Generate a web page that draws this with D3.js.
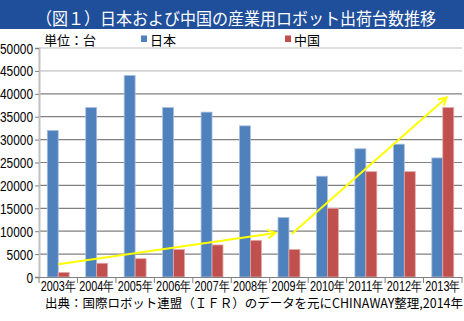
<!DOCTYPE html>
<html><head><meta charset="utf-8">
<script src="https://cdn.jsdelivr.net/npm/d3@7"></script>
<style>
html,body{margin:0;padding:0;background:#fff;}
svg{display:block;}
.j{font-family:"Noto Sans CJK JP","Noto Sans",sans-serif;}
</style></head><body>
<svg id="c" width="464" height="321"></svg>
<script>
const titleText = "（図１）日本および中国の産業用ロボット出荷台数推移";
const unitText = "単位：台";
const sourceText = "出典：国際ロボット連盟（ＩＦＲ）のデータを元にCHINAWAY整理,2014年";
const years = ["2003年","2004年","2005年","2006年","2007年","2008年","2009年","2010年","2011年","2012年","2013年"];
const seriesNames = ["日本","中国"];
const japan = [32000,37000,44000,37000,36000,33000,13000,22000,28000,29000,26000];
const china = [1000,3000,4000,6000,7000,8000,6000,15000,23000,23000,37000];
const yTicks = [0,5000,10000,15000,20000,25000,30000,35000,40000,45000,50000];
const colors = ["#4F81BD","#C0504D"];
// annotation arrows: [band position (category index units), value]
const arrows = [
  [[0.5,2800],[6.15,9600]],
  [[6.57,9400],[10.6,39200]]
];

const svg = d3.select("#c");
const W = 464, H = 321;
const L = 39, R = 462, T = 48, B = 277;
const numFont = "'Liberation Sans','DejaVu Sans',sans-serif";

// title bar
svg.append("rect").attr("x",0).attr("y",0).attr("width",W).attr("height",29).attr("fill","#1F4E9B");
svg.append("text").attr("class","j").attr("x",236).attr("y",25)
  .attr("text-anchor","middle").attr("fill","#fff").attr("font-size",17)
  .attr("textLength",400).attr("lengthAdjust","spacingAndGlyphs").text(titleText);

const x = d3.scaleBand().domain(years).range([L,R]).paddingInner(0).paddingOuter(0);
const xs = d3.scaleBand().domain(seriesNames).range([x.bandwidth()*0.215, x.bandwidth()*0.785]);
const y = d3.scaleLinear().domain([0,50000]).range([B,T]);
const xc = v => L + v * x.bandwidth();

// gridlines
svg.append("g").selectAll("line").data(yTicks.filter(d=>d>0)).join("line")
  .attr("x1",L).attr("x2",R).attr("y1",d=>y(d)).attr("y2",d=>y(d))
  .attr("stroke",d=>d>=45000?"#c0c0c0":"#808080").attr("stroke-width",1.2);

// y axis
const ya = svg.append("g").attr("transform",`translate(${L},0)`)
  .call(d3.axisLeft(y).tickValues(yTicks).tickSize(4).tickPadding(2).tickFormat(d3.format("d")));
ya.select(".domain").attr("stroke","#c0c0c0").attr("stroke-width",2);
ya.selectAll(".tick line").attr("stroke","#808080");
ya.selectAll("text").attr("font-size",14).attr("fill","#000").attr("font-family",numFont)
  .attr("dy","0.36em")
  .each(function(d){ const s=String(d); d3.select(this).attr("textLength",s.length*6.6).attr("lengthAdjust","spacingAndGlyphs"); });

// bars
const data = years.map((yr,i)=>({yr, vals:[japan[i],china[i]]}));
const g = svg.append("g").selectAll("g").data(data).join("g")
  .attr("transform",d=>`translate(${x(d.yr)},0)`);
g.selectAll("rect").data(d=>d.vals.map((v,k)=>({k,v}))).join("rect")
  .attr("x",d=>xs(seriesNames[d.k])).attr("width",xs.bandwidth())
  .attr("y",d=>y(d.v)).attr("height",d=>y(0)-y(d.v))
  .attr("fill",d=>colors[d.k])
  .attr("stroke",d=>d.k===0?"#a9c0de":"#e2a9a8").attr("stroke-width",0.8);

// x axis
const xa = svg.append("g").attr("transform",`translate(0,${B})`)
  .call(d3.axisBottom(x).tickSize(0).tickPadding(3));
xa.select(".domain").attr("stroke","#808080").attr("stroke-width",1.2);
xa.selectAll("text").attr("font-size",14).attr("fill","#000").attr("font-family",numFont)
  .attr("dy","0.8em").attr("textLength",35).attr("lengthAdjust","spacingAndGlyphs");
// category separators
svg.append("g").selectAll("line").data(d3.range(years.length+1)).join("line")
  .attr("x1",d=>xc(d)).attr("x2",d=>xc(d)).attr("y1",B).attr("y2",B+6)
  .attr("stroke","#808080");

// arrows
const ag = svg.append("g").attr("stroke","#FFFF00").attr("stroke-width",2).attr("fill","none");
arrows.forEach(([a,b])=>{
  const x1=xc(a[0]), y1=y(a[1]), x2=xc(b[0]), y2=y(b[1]);
  ag.append("line").attr("x1",x1).attr("y1",y1).attr("x2",x2).attr("y2",y2);
  const ang=Math.atan2(y2-y1,x2-x1), hl=9, ha=0.5;
  const p1=[x2-hl*Math.cos(ang-ha), y2-hl*Math.sin(ang-ha)];
  const p2=[x2-hl*Math.cos(ang+ha), y2-hl*Math.sin(ang+ha)];
  ag.append("path").attr("d",`M${p1}L${x2},${y2}L${p2}`);
});

// unit & legend
svg.append("text").attr("class","j").attr("x",44).attr("y",45).attr("font-size",13).text(unitText);
const lx = [141,285];
seriesNames.forEach((s,i)=>{
  svg.append("rect").attr("x",lx[i]).attr("y",35.5).attr("width",6).attr("height",6.5).attr("fill",colors[i]);
  svg.append("text").attr("class","j").attr("x",lx[i]+9).attr("y",45).attr("font-size",13).text(s);
});

// source
svg.append("text").attr("class","j").attr("x",45).attr("y",308).attr("font-size",12.5)
  .attr("textLength",418).attr("lengthAdjust","spacingAndGlyphs").text(sourceText);
</script>
</body></html>
